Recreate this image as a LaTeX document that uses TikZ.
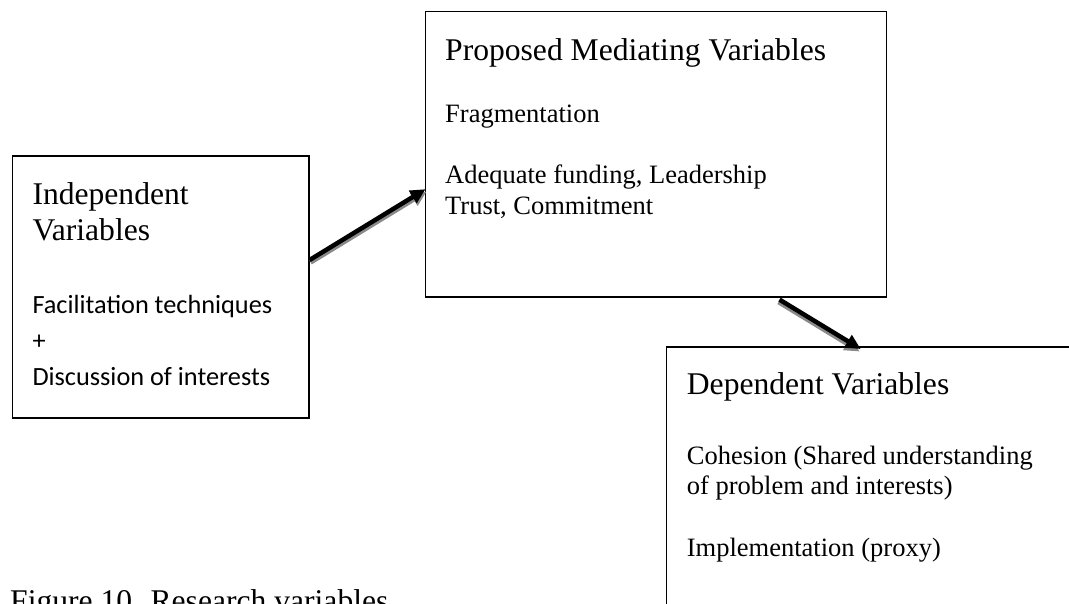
\documentclass[tikz,border=0pt]{standalone}
\usepackage{fontspec}
\setmainfont{Liberation Serif}
\newfontfamily\calibrifont{Carlito}
\usetikzlibrary{arrows.meta,calc}

\definecolor{shadowgray}{HTML}{8A8A8A}

\tikzset{
  varbox/.style={draw=black, line width=1.6pt, fill=none, inner sep=0pt,
                 anchor=north west, rectangle},
  headtext/.style={anchor=base west, inner sep=0pt,
                   font=\fontsize{31.6}{36}\selectfont},
  bodytext/.style={anchor=base west, inner sep=0pt,
                   font=\fontsize{26.5}{30}\selectfont},
  sanstext/.style={anchor=base west, inner sep=0pt,
                   font=\calibrifont\fontsize{26.3}{30}\selectfont},
  linkarrow/.style={line width=4.5pt, -{Triangle[length=15pt,width=14pt]}},
  linkshadow/.style={linkarrow, draw=shadowgray, fill=shadowgray},
}

\begin{document}
\begin{tikzpicture}[x=1pt, y=-1pt]
  \useasboundingbox (0,0) rectangle (1069,603);
  \clip (0,0) rectangle (1069,603);

  % boxes
  \node[varbox, minimum width=296.3pt, minimum height=262pt] (indep) at (11.7,155) {};
  \node[varbox, minimum width=461.2pt, minimum height=285.3pt] (med) at (424.5,10.7) {};
  \node[varbox, minimum width=470pt, minimum height=320pt] (dep) at (665.7,346) {};

  % independent variables
  \node[headtext] (indepA) at (32.3,204.3) {Independent};
  \node[headtext] (indepB) at (32.3,240.7) {Variables};
  \node[sanstext] (indepC) at (32.3,313.3) {Facilitation techniques};
  \node[sanstext] (indepD) at (32.3,349.2) {+};
  \node[sanstext] (indepE) at (32.3,385.3) {Discussion of interests};

  % mediating variables
  \node[headtext] (medA) at (445,60) {Proposed Mediating Variables};
  \node[bodytext] (medB) at (445,122.7) {Fragmentation};
  \node[bodytext] (medC) at (445,183.3) {Adequate funding, Leadership};
  \node[bodytext] (medD) at (445,214) {Trust, Commitment};

  % dependent variables
  \node[headtext] (depA) at (686.7,394) {Dependent Variables};
  \node[bodytext] (depB) at (686.7,464.5) {Cohesion (Shared understanding};
  \node[bodytext] (depC) at (686.7,494.5) {of problem and interests)};
  \node[bodytext] (depD) at (686.7,556) {Implementation (proxy)};

  % caption
  \node[headtext] (caption) at (10,611) {Figure 10. Research variables};

  % arrows with drop shadow
  \draw[linkshadow] ($(indep.north east)+(1,107.5)$) -- ($(med.north west)+(2,181)$);
  \draw[linkarrow]  ($(indep.north east)+(0,105)$) -- ($(med.north west)+(1,178.5)$);

  \draw[linkshadow] ($(med.south west)+(354,4.5)$) -- ($(dep.north west)+(194,5.5)$);
  \draw[linkarrow]  ($(med.south west)+(355,2)$) -- ($(dep.north west)+(195,3)$);
\end{tikzpicture}
\end{document}
